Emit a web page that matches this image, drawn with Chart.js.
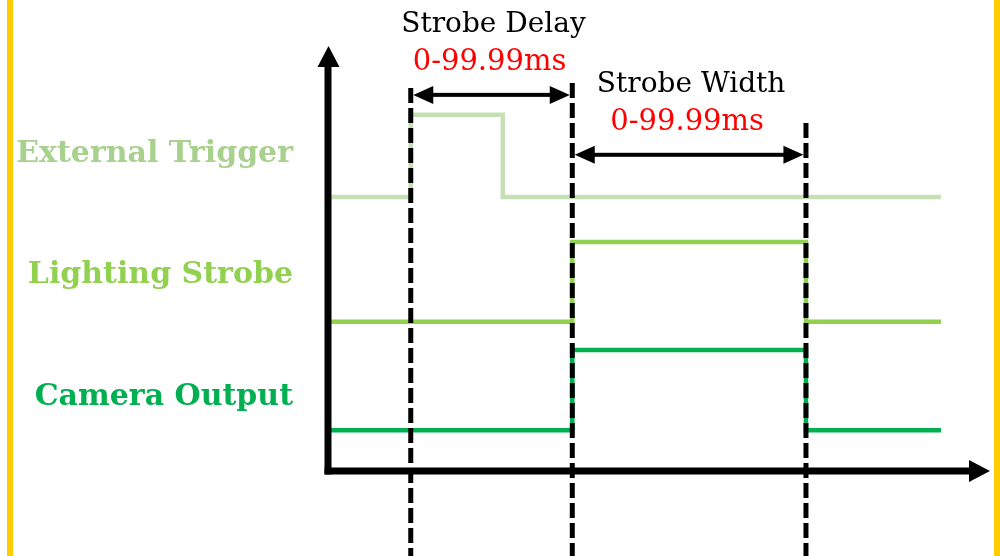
<!DOCTYPE html>
<html><head><meta charset="utf-8">
<script src="https://cdn.jsdelivr.net/npm/chart.js@4.4.0/dist/chart.umd.min.js"></script>
<style>html,body{margin:0;padding:0;background:#fff;} canvas{display:block}</style>
</head><body>
<canvas id="c" width="1000" height="556"></canvas>
<script>
// ---- data ----
const signalNames = ['External Trigger', 'Lighting Strobe', 'Camera Output'];
const signalLabelLevels = [74.5, 46.1, 17.4];
const extTriggerX = [0.45, 12.5, 26.4, 92.6];
const extTriggerY = [64.5, 83.8, 64.5, 64.5];
const strobeX = [0.45, 36.9, 72.2, 92.6];
const strobeY = [35.1, 53.9, 35.1, 35.1];
const cameraX = [0.45, 36.9, 72.2, 92.6];
const cameraY = [9.6, 28.5, 9.6, 9.6];
const markerX = [12.5, 36.9, 72.2];
const markerTop = [90.1, 91.3, 81.9];
const markerBottom = -20;
const spanTitles = ['Strobe Delay', 'Strobe Width'];
const spanRanges = ['0-99.99ms', '0-99.99ms'];
const spanFrom = [12.5, 36.9];
const spanTo = [36.9, 72.2];
const spanY = [88.5, 74.4];

// ---- styles ----
const labelColors = ['#a9d18e', '#92d050', '#00b050'];
const lineColors = ['#c5e0b4', '#92d050', '#00b050'];

const pts = (xs, ys) => xs.map((x, i) => ({x, y: ys[i]}));

const signalSets = [[extTriggerX, extTriggerY], [strobeX, strobeY], [cameraX, cameraY]].map((s, i) => ({
  label: signalNames[i],
  data: pts(s[0], s[1]),
  stepped: 'before',
  borderColor: lineColors[i],
  borderWidth: 4.5,
  pointRadius: 0,
  fill: false,
  order: 1,
  borderJoinStyle: 'miter',
  borderCapStyle: 'butt'
}));

const markerSets = markerX.map((x, i) => ({
  label: 'marker' + i,
  data: [{x, y: markerTop[i]}, {x, y: markerBottom}],
  borderColor: '#000',
  borderWidth: 5,
  borderDash: [15, 5],
  borderCapStyle: 'butt',
  pointRadius: 0,
  fill: false,
  clip: false,
  order: 0
}));

function head(ctx, x, y, dir, len, half) {
  ctx.beginPath();
  ctx.moveTo(x, y);
  ctx.lineTo(x - dir * len, y - half);
  ctx.lineTo(x - dir * len, y + half);
  ctx.closePath();
  ctx.fill();
}

const deco = {
  id: 'deco',
  beforeDraw(chart) {
    const ctx = chart.ctx;
    ctx.save();
    ctx.fillStyle = '#fff';
    ctx.fillRect(0, 0, chart.width, chart.height);
    ctx.fillStyle = '#ffcc00';
    ctx.fillRect(7, 0, 6, chart.height);
    ctx.fillRect(994, 0, 6, chart.height);
    ctx.restore();
  },
  afterDatasetsDraw(chart) {
    const ctx = chart.ctx;
    const xs = chart.scales.x, ys = chart.scales.y;
    const x0 = xs.getPixelForValue(0), x1 = xs.getPixelForValue(100);
    const y0 = ys.getPixelForValue(0), y1 = ys.getPixelForValue(100);
    ctx.save();
    ctx.fillStyle = '#000';
    // axes
    ctx.fillRect(x0 - 3.5, y1 + 20, 7, (y0 + 3.5) - (y1 + 20));
    ctx.beginPath();
    ctx.moveTo(x0 + 0.5, y1);
    ctx.lineTo(x0 + 0.5 - 11, y1 + 21);
    ctx.lineTo(x0 + 0.5 + 11, y1 + 21);
    ctx.closePath();
    ctx.fill();
    ctx.fillRect(x0 - 3.5, y0 - 3.5, (x1 - 21) - (x0 - 3.5), 7);
    head(ctx, x1, y0, 1, 21, 11);
    // span arrows
    spanTitles.forEach((t, i) => {
      const a = xs.getPixelForValue(spanFrom[i]) + 2.5;
      const b = xs.getPixelForValue(spanTo[i]) - 2.5;
      const y = ys.getPixelForValue(spanY[i]);
      ctx.fillRect(a + 15, y - 2, (b - 15) - (a + 15), 4);
      head(ctx, a, y, -1, 20, 9);
      head(ctx, b, y, 1, 20, 9);
      const cx = (a + b) / 2;
      ctx.textAlign = 'center';
      ctx.textBaseline = 'alphabetic';
      ctx.fillStyle = '#000';
      ctx.font = '28px "DejaVu Serif"';
      ctx.fillText(t, cx + 2, y - 63);
      ctx.fillStyle = '#ff0000';
      ctx.font = '29px "DejaVu Serif"';
      ctx.fillText(spanRanges[i], cx - 2, y - 25);
      ctx.fillStyle = '#000';
    });
    ctx.restore();
  }
};

new Chart(document.getElementById('c'), {
  type: 'line',
  data: { datasets: [...markerSets, ...signalSets] },
  options: {
    responsive: false,
    devicePixelRatio: 1,
    animation: false,
    layout: { padding: { top: 46, right: 10, bottom: 85, left: 0 } },
    plugins: { legend: { display: false }, tooltip: { enabled: false } },
    scales: {
      x: { type: 'linear', min: 0, max: 100, display: false },
      y: {
        type: 'linear', min: 0, max: 100, position: 'left',
        grid: { display: false, drawTicks: false },
        border: { display: false },
        afterFit(scale) {
          scale.width = 328;
          scale.paddingTop = 0;
          scale.paddingBottom = 0;
        },
        afterBuildTicks(scale) { scale.ticks = signalLabelLevels.map(v => ({ value: v })); },
        ticks: {
          autoSkip: false,
          padding: 35,
          callback: (v, i) => signalNames[i],
          color: (c) => labelColors[c.index],
          font: { family: 'DejaVu Serif', weight: 'bold', size: 30 }
        }
      }
    }
  },
  plugins: [deco]
});
</script>
</body></html>
